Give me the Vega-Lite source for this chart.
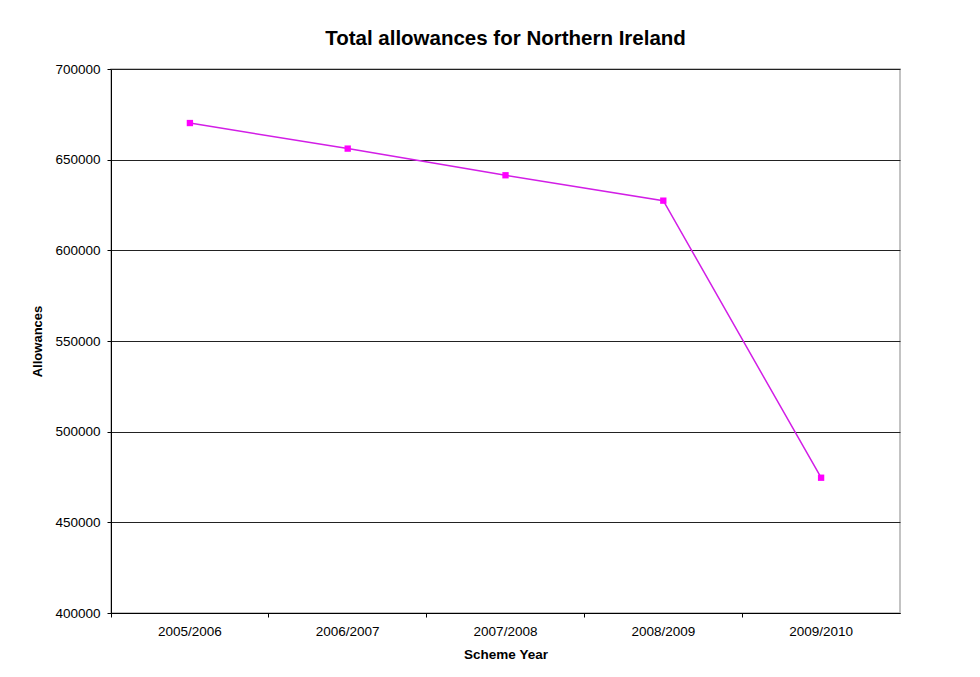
{
  "$schema": "https://vega.github.io/schema/vega-lite/v6.json",
  "width": 789,
  "height": 544,
  "autosize": {"type": "none"},
  "padding": {"left": 111, "top": 69, "right": 80, "bottom": 64},
  "background": "white",
  "config": {
    "font": "Liberation Sans",
    "view": {"stroke": "#b0b0b0", "strokeWidth": 1.5}
  },
  "title": {
    "text": "Total allowances for Northern Ireland",
    "fontSize": 20.5,
    "fontWeight": "bold",
    "font": "Liberation Sans",
    "color": "black",
    "anchor": "middle",
    "offset": 13
  },
  "data": {
    "values": [
      {"year": "2005/2006", "allowances": 670200},
      {"year": "2006/2007", "allowances": 656100},
      {"year": "2007/2008", "allowances": 641400},
      {"year": "2008/2009", "allowances": 627400},
      {"year": "2009/2010", "allowances": 474600}
    ]
  },
  "layer": [
    {
      "mark": {"type": "line", "color": "#d21ee6", "strokeWidth": 1.5},
      "encoding": {
        "x": {
          "field": "year", "type": "nominal", "sort": null,
          "scale": {"type": "band", "paddingInner": 0, "paddingOuter": 0},
          "axis": {
            "title": "Scheme Year", "titleFontSize": 13.5, "titleFontWeight": "bold", "titleColor": "black",
            "titlePadding": 10, "labelAngle": 0, "labelFontSize": 13.5, "labelColor": "black",
            "labelPadding": 11, "ticks": false, "domain": true, "domainColor": "black", "grid": false,
            "orient": "bottom"
          }
        },
        "y": {
          "field": "allowances", "type": "quantitative",
          "scale": {"domain": [400000, 700000], "nice": false, "zero": false},
          "axis": {
            "title": "Allowances", "titleFontSize": 13, "titleFontWeight": "bold", "titleColor": "black",
            "titlePadding": 10, "values": [400000, 450000, 500000, 550000, 600000, 650000, 700000],
            "format": "d", "labelFontSize": 13.5, "labelColor": "black", "labelPadding": 7,
            "tickSize": 4, "tickColor": "black", "domainColor": "black",
            "grid": true, "gridColor": "#222222", "gridWidth": 1
          }
        }
      }
    },
    {
      "mark": {"type": "square", "color": "#ff00ff", "opacity": 1, "size": 40, "filled": true},
      "encoding": {
        "x": {
          "field": "year", "type": "nominal", "sort": null,
          "axis": {
            "title": null, "labels": false, "ticks": true, "tickSize": 4, "tickColor": "black",
            "bandPosition": 0, "domain": false, "grid": false, "orient": "bottom"
          }
        },
        "y": {"field": "allowances", "type": "quantitative"}
      }
    }
  ],
  "resolve": {"axis": {"x": "independent"}}
}
